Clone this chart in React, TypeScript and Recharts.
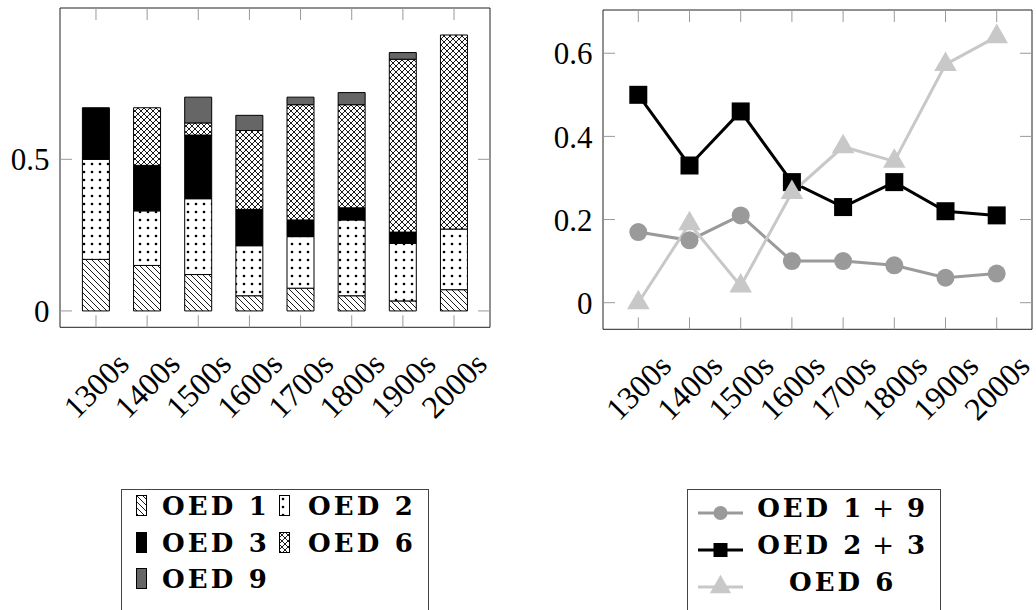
import { ComposedChart, Bar, LineChart, Line, XAxis, YAxis, Legend } from 'recharts';

const decades = ['1300s', '1400s', '1500s', '1600s', '1700s', '1800s', '1900s', '2000s'];

// stacked shares (left panel)
const oed1 = [0.17, 0.15, 0.12, 0.05, 0.075, 0.05, 0.033, 0.07];
const oed2 = [0.33, 0.18, 0.25, 0.165, 0.17, 0.25, 0.19, 0.2];
const oed3 = [0.17, 0.15, 0.21, 0.12, 0.055, 0.04, 0.037, 0];
const oed6 = [0, 0.19, 0.04, 0.26, 0.38, 0.34, 0.57, 0.64];
const oed9 = [0, 0, 0.085, 0.05, 0.025, 0.04, 0.022, 0];

// grouped shares (right panel)
const oed1plus9 = [0.17, 0.15, 0.21, 0.1, 0.1, 0.09, 0.06, 0.07];
const oed2plus3 = [0.5, 0.33, 0.46, 0.29, 0.23, 0.29, 0.22, 0.21];
const oed6line = [0, 0.19, 0.04, 0.265, 0.375, 0.34, 0.573, 0.64];

const leftTicks = [0, 0.5];
const rightTicks = [0, 0.2, 0.4, 0.6];

const barData = decades.map((decade, i) => ({
  decade,
  oed1: oed1[i],
  oed2: oed2[i],
  oed3: oed3[i],
  oed6: oed6[i],
  oed9: oed9[i],
}));

const lineData = decades.map((decade, i) => ({
  decade,
  a: oed1plus9[i],
  b: oed2plus3[i],
  c: oed6line[i],
}));

const FONT = '"Liberation Serif", "Times New Roman", serif';
const LEGEND_FONT = '"DejaVu Serif", serif';
const TICK_GRAY = '#999';
const TICK_LEN = 12;

const barSeries = [
  { key: 'oed1', name: 'OED 1', fill: 'url(#hatchNW)' },
  { key: 'oed2', name: 'OED 2', fill: 'url(#dots)' },
  { key: 'oed3', name: 'OED 3', fill: '#000' },
  { key: 'oed6', name: 'OED 6', fill: 'url(#crosshatch)' },
  { key: 'oed9', name: 'OED 9', fill: '#666' },
];

const lineSeries = [
  { key: 'a', label: ['OED 1', '9'], color: '#9a9a9a', shape: 'circle' },
  { key: 'b', label: ['OED 2', '3'], color: '#000', shape: 'square' },
  { key: 'c', label: ['OED 6'], color: '#c8c8c8', shape: 'triangle' },
];

function Marker({ shape, color, cx, cy, s }: { shape: string; color: string; cx: number; cy: number; s: number }) {
  if (shape === 'circle') return <circle cx={cx} cy={cy} r={s} fill={color} />;
  if (shape === 'square') return <rect x={cx - s} y={cy - s} width={2 * s} height={2 * s} fill={color} />;
  const r = s * 1.45;
  const pts = `${cx},${cy - r} ${cx - 0.866 * r},${cy + 0.5 * r} ${cx + 0.866 * r},${cy + 0.5 * r}`;
  return <polygon points={pts} fill={color} />;
}

// bottom axis: inner tick + rotated label
const DecadeTick = (props: any) => {
  const { x, y, payload } = props;
  const ly = y + 58;
  return (
    <g>
      <line x1={x} y1={y} x2={x} y2={y - TICK_LEN} stroke={TICK_GRAY} />
      <text
        x={x}
        y={ly}
        transform={`rotate(-45 ${x} ${ly})`}
        textAnchor="middle"
        dominantBaseline="central"
        fontSize={32}
        fontFamily={FONT}
        fill="#000"
      >
        {payload.value}
      </text>
    </g>
  );
};

// top axis: inner tick only
const TopTick = (props: any) => (
  <line x1={props.x} y1={props.y} x2={props.x} y2={props.y + TICK_LEN} stroke={TICK_GRAY} />
);

// left axis: inner tick + label
const LeftTick = (props: any) => {
  const { x, y, payload } = props;
  return (
    <g>
      <line x1={x} y1={y} x2={x + TICK_LEN} y2={y} stroke={TICK_GRAY} />
      <text x={x - 10.5} y={y} dy="0.36em" textAnchor="end" fontSize={31} fontFamily={FONT} fill="#000">
        {payload.value}
      </text>
    </g>
  );
};

// right axis: inner tick only
const RightTick = (props: any) => (
  <line x1={props.x} y1={props.y} x2={props.x - TICK_LEN} y2={props.y} stroke={TICK_GRAY} />
);

const frame = { stroke: '#222', strokeWidth: 1 };

function BarLegend() {
  return (
    <div
      style={{
        position: 'relative',
        width: 308,
        height: 124,
        border: '1px solid #444',
        boxSizing: 'border-box',
        background: '#fff',
        fontFamily: LEGEND_FONT,
        fontWeight: 'bold',
        fontSize: 26,
      }}
    >
      {barSeries.map((s, i) => {
        const col = i % 2;
        const row = Math.floor(i / 2);
        const top = 5.5 + row * 36.5;
        return (
          <div key={s.key}>
            <svg
              width={11}
              height={21}
              style={{ position: 'absolute', left: col ? 157 : 14, top }}
            >
              <rect x={0.5} y={0.5} width={10} height={20} fill={s.fill} stroke="#000" strokeWidth={1} />
            </svg>
            <div
              style={{
                position: 'absolute',
                left: col ? 186 : 40,
                top: top + 1,
                lineHeight: '20px',
                whiteSpace: 'nowrap',
                letterSpacing: 3.2,
              }}
            >
              {s.name}
            </div>
          </div>
        );
      })}
    </div>
  );
}

function LineLegend() {
  return (
    <div
      style={{
        position: 'relative',
        width: 254,
        height: 124,
        border: '1px solid #444',
        boxSizing: 'border-box',
        background: '#fff',
        fontFamily: LEGEND_FONT,
        fontWeight: 'bold',
        fontSize: 26,
      }}
    >
      {lineSeries.map((s, i) => {
        const cy = 23 + i * 36.7;
        return (
          <div key={s.key}>
            <svg width={60} height={34} style={{ position: 'absolute', left: 4, top: cy - 17 }}>
              <line x1={6} y1={17} x2={51} y2={17} stroke={s.color} strokeWidth={3} />
              <Marker shape={s.shape} color={s.color} cx={28.5} cy={17} s={s.shape === 'triangle' ? 8.5 : 7} />
            </svg>
            <div
              style={{
                position: 'absolute',
                left: 64,
                width: 182,
                top: cy - 15,
                lineHeight: '20px',
                textAlign: 'center',
                whiteSpace: 'nowrap',
                letterSpacing: 3,
              }}
            >
              {s.label[0]}
              {s.label.length > 1 && (
                <>
                  <span style={{ fontWeight: 'normal', margin: '0 10px 0 8px' }}>+</span>
                  {s.label[1]}
                </>
              )}
            </div>
          </div>
        );
      })}
    </div>
  );
}

export default function App() {
  return (
    <div style={{ position: 'absolute', left: 0, top: 0, width: 1036, height: 610, overflow: 'hidden', background: '#fff' }}>
      <svg width={0} height={0} style={{ position: 'absolute' }}>
        <defs>
          <pattern id="hatchNW" patternUnits="userSpaceOnUse" width={6} height={6}>
            <rect width={6} height={6} fill="#fff" />
            <path d="M0,0 L6,6 M-1,5 L1,7 M5,-1 L7,1" stroke="#000" strokeWidth={0.9} />
          </pattern>
          <pattern id="dots" patternUnits="userSpaceOnUse" width={8} height={8}>
            <rect width={8} height={8} fill="#fff" />
            <circle cx={4} cy={4} r={1.3} fill="#000" />
          </pattern>
          <pattern id="crosshatch" patternUnits="userSpaceOnUse" width={6} height={6}>
            <rect width={6} height={6} fill="#fff" />
            <path d="M0,0 L6,6 M6,0 L0,6 M-1,5 L1,7 M5,-1 L7,1 M-1,1 L1,-1 M5,7 L7,5" stroke="#000" strokeWidth={0.9} />
          </pattern>
        </defs>
      </svg>

      <div style={{ position: 'absolute', left: 0, top: 0 }}>
        <ComposedChart
          width={518}
          height={610}
          data={barData}
          margin={{ top: 7, left: 59, right: 27, bottom: 281.7 }}
        >
          <XAxis
            dataKey="decade"
            height={1}
            padding={{ left: 10.4, right: 10.4 }}
            axisLine={frame}
            tickLine={false}
            tickSize={0}
            tickMargin={0}
            interval={0}
            tick={<DecadeTick />}
          />
          <XAxis
            xAxisId="top"
            orientation="top"
            dataKey="decade"
            height={1}
            padding={{ left: 10.4, right: 10.4 }}
            axisLine={frame}
            tickLine={false}
            tickSize={0}
            tickMargin={0}
            interval={0}
            tick={<TopTick />}
          />
          <YAxis
            width={1}
            domain={[-0.054, 0.999]}
            allowDataOverflow
            ticks={leftTicks}
            axisLine={frame}
            tickLine={false}
            tickSize={0}
            tickMargin={0}
            tick={<LeftTick />}
          />
          <YAxis
            yAxisId="right"
            orientation="right"
            width={1}
            domain={[-0.054, 0.999]}
            allowDataOverflow
            ticks={leftTicks}
            axisLine={frame}
            tickLine={false}
            tickSize={0}
            tickMargin={0}
            tick={<RightTick />}
          />
          {barSeries.map((s) => (
            <Bar
              key={s.key}
              dataKey={s.key}
              name={s.name}
              stackId="oed"
              barSize={27}
              fill={s.fill}
              stroke="#000"
              strokeWidth={1}
              isAnimationActive={false}
            />
          ))}
          {/* invisible series that anchors the mirrored top/right frame axes */}
          <Line
            xAxisId="top"
            yAxisId="right"
            dataKey="oed1"
            stroke="none"
            dot={false}
            activeDot={false}
            legendType="none"
            isAnimationActive={false}
          />
          <Legend
            layout="horizontal"
            verticalAlign="middle"
            align="center"
            wrapperStyle={{ position: 'absolute', left: 121, top: 488.5, width: 308, height: 124 }}
            content={() => <BarLegend />}
          />
        </ComposedChart>
      </div>

      <div style={{ position: 'absolute', left: 518, top: 0 }}>
        <LineChart
          width={518}
          height={610}
          data={lineData}
          margin={{ top: 9, left: 84, right: 3, bottom: 279.7 }}
        >
          <XAxis
            dataKey="decade"
            height={1}
            scale="point"
            padding={{ left: 35.3, right: 35.3 }}
            axisLine={frame}
            tickLine={false}
            tickSize={0}
            tickMargin={0}
            interval={0}
            tick={<DecadeTick />}
          />
          <XAxis
            xAxisId="top"
            orientation="top"
            dataKey="decade"
            height={1}
            scale="point"
            padding={{ left: 35.3, right: 35.3 }}
            axisLine={frame}
            tickLine={false}
            tickSize={0}
            tickMargin={0}
            interval={0}
            tick={<TopTick />}
          />
          <YAxis
            width={1}
            domain={[-0.064, 0.704]}
            allowDataOverflow
            ticks={rightTicks}
            axisLine={frame}
            tickLine={false}
            tickSize={0}
            tickMargin={0}
            tick={<LeftTick />}
          />
          <YAxis
            yAxisId="right"
            orientation="right"
            width={1}
            domain={[-0.064, 0.704]}
            allowDataOverflow
            ticks={rightTicks}
            axisLine={frame}
            tickLine={false}
            tickSize={0}
            tickMargin={0}
            tick={<RightTick />}
          />
          {/* invisible series that anchors the mirrored top/right frame axes */}
          <Line
            xAxisId="top"
            yAxisId="right"
            dataKey="a"
            stroke="none"
            dot={false}
            activeDot={false}
            legendType="none"
            isAnimationActive={false}
          />
          {lineSeries.map((s) => (
            <Line
              key={s.key}
              type="linear"
              dataKey={s.key}
              stroke={s.color}
              strokeWidth={3}
              isAnimationActive={false}
              dot={(p: any) => (
                <Marker
                  key={`${s.key}-${p.index}`}
                  shape={s.shape}
                  color={s.color}
                  cx={p.cx}
                  cy={p.cy}
                  s={9}
                />
              )}
              activeDot={false}
            />
          ))}
          <Legend
            layout="horizontal"
            verticalAlign="middle"
            align="center"
            wrapperStyle={{ position: 'absolute', left: 168.7, top: 489.3, width: 254, height: 124 }}
            content={() => <LineLegend />}
          />
        </LineChart>
      </div>
    </div>
  );
}
